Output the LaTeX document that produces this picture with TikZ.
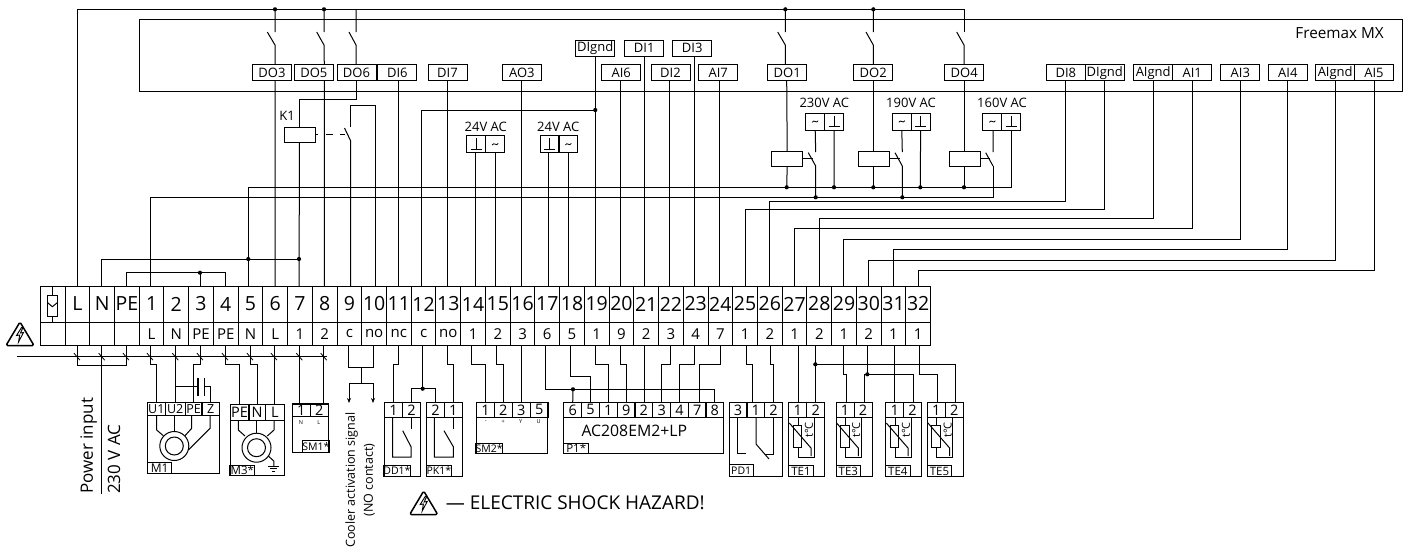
\documentclass[tikz,border=0pt]{standalone}
\usepackage{fontspec}
\setmainfont{Open Sans}
\usetikzlibrary{arrows.meta}
\newcommand{\bendwire}[3]{\draw[wire] (#1) -- (#1 |- 0,#2) -| (#3);}
\tikzset{
    wire/.style={line width=1pt},
    sigbox/.style={draw, line width=1pt, outer sep=0pt, inner sep=0pt, minimum width=39pt, minimum height=16pt, font=\fontsize{13}{15}\selectfont},
    supplybox/.style={draw, line width=1pt, outer sep=0pt, inner sep=0pt, minimum width=19pt, minimum height=17pt},
    relaybox/.style={draw, line width=1pt, outer sep=0pt, minimum width=31pt, minimum height=15pt},
    termcell/.style={draw, line width=1pt, outer sep=0pt, inner sep=0pt, minimum width=24.73pt, minimum height=36pt, font=\fontsize{19.5}{22}\selectfont},
    pincell/.style={draw, line width=1pt, outer sep=0pt, inner sep=0pt, minimum width=24.73pt, minimum height=23.7pt, font=\fontsize{15}{17}\selectfont},
    devpin/.style={draw, line width=1pt, outer sep=0pt, inner sep=0pt, minimum width=#1, minimum height=14.3pt, font=\fontsize{14.5}{16}\selectfont},
    devbody/.style={draw, line width=1pt, outer sep=0pt, inner sep=0pt},
    devtag/.style={draw, line width=1pt, outer sep=0pt, inner sep=0pt, minimum width=#1, minimum height=10.7pt, font=\fontsize{10.5}{12}\selectfont},
    tinylabel/.style={inner sep=0pt, font=\fontsize{5.5}{6}\selectfont},
    plainlabel/.style={inner sep=0pt, font=\fontsize{13}{16}\selectfont},
    junction/.style={circle, fill=black, inner sep=0pt, minimum size=4.2pt},
    hazard/.pic={
        \draw[line width=1.5pt, rounded corners=1.5pt, line join=round] (0,-12) -- (14,11.5) -- (-14,11.5) -- cycle;
        \draw[line width=0.9pt, line join=miter] (1.5,-6.5) -- (-3.5,1.5) -- (-0.3,1) -- (-1.5,8) -- (3.5,-1.5) -- (0.5,-1) -- (3,-6.5) -- cycle;
    },
    earthmark/.pic={
        \draw[line width=0.9pt] (0,-6) -- (0,5) (-5.5,5) -- (5.5,5);
    },
    acmark/.pic={
        \draw[line width=0.8pt] (-3,0.8) .. controls (-1.2,-2.8) and (1.2,2.8) .. (3,-0.8);
    },
    tempsensor/.pic={
        \draw[wire] (4.5,8) rectangle (13,30);
        \draw[wire] (9.3,0) -- (9.3,8) (9.3,30) -- (9.3,40) -- (25.6,40) -- (25.6,0);
        \draw[wire] (0.6,6) -- (22.3,31) -- (22.3,39);
        \node[rotate=90, inner sep=0pt, font=\fontsize{11}{12}\selectfont] (t) at (20.3,13) {t°C};
    }
}

\begin{document}
\begin{tikzpicture}[x=1pt, y=-1pt]
    \useasboundingbox (0,0) rectangle (1408,550);

    % Controller housing
    \node[draw, line width=1pt, outer sep=0pt, minimum width=1262.5pt, minimum height=72pt] (freemax) at (770.75,55) {};
    \node[anchor=east, inner sep=0pt, font=\fontsize{15.3}{17}\selectfont] (freemaxname) at (1384,33) {Freemax MX};

    % Controller outputs and inputs
    \node[sigbox] (DO3) at (272,72.7) {DO3};
    \node[sigbox] (DO5) at (313.8,72.7) {DO5};
    \node[sigbox] (DO6) at (356.5,72.7) {DO6};
    \node[sigbox] (DI6) at (397.3,72.7) {DI6};
    \node[sigbox] (DI7) at (447.5,72.7) {DI7};
    \node[sigbox] (AO3) at (521.8,72.7) {AO3};
    \node[sigbox] (DIgndA) at (595.2,48.3) {DIgnd};
    \node[sigbox] (AI6) at (621.2,72.7) {AI6};
    \node[sigbox] (DI1) at (644.2,48.3) {DI1};
    \node[sigbox] (DI2) at (670.5,72.7) {DI2};
    \node[sigbox] (DI3) at (692.2,48.3) {DI3};
    \node[sigbox] (AI7) at (718.2,72.7) {AI7};
    \node[sigbox] (DO1) at (787.2,72.7) {DO1};
    \node[sigbox] (DO2) at (873.2,72.7) {DO2};
    \node[sigbox] (DO4) at (964.2,72.7) {DO4};
    \node[sigbox] (DI8) at (1065.8,72.7) {DI8};
    \node[sigbox] (DIgndB) at (1104.8,72.7) {DIgnd};
    \node[sigbox] (AIgndA) at (1153.2,72.7) {AIgnd};
    \node[sigbox] (AI1) at (1192.2,72.7) {AI1};
    \node[sigbox] (AI3) at (1240.3,72.7) {AI3};
    \node[sigbox] (AI4) at (1287.8,72.7) {AI4};
    \node[sigbox] (AIgndB) at (1335.2,72.7) {AIgnd};
    \node[sigbox] (AI5) at (1374,72.7) {AI5};

    % Terminal strip
    \foreach \n/\toplab/\botlab [count=\c] in {S//, L/L/, N/N/, PE/PE/, 1/1/L, 2/2/N, 3/3/PE, 4/4/PE, 5/5/N, 6/6/L, 7/7/1, 8/8/2, 9/9/c, 10/10/no, 11/11/nc, 12/12/c, 13/13/no, 14/14/1, 15/15/2, 16/16/3, 17/17/6, 18/18/5, 19/19/1, 20/20/9, 21/21/2, 22/22/3, 23/23/4, 24/24/7, 25/25/1, 26/26/2, 27/27/1, 28/28/2, 29/29/1, 30/30/2, 31/31/1, 32/32/1} {
        \node[termcell] (term\n) at ({40.3+(\c-0.5)*24.73},304) {\toplab};
        \node[pincell] (pin\n) at ({40.3+(\c-0.5)*24.73},333.85) {\botlab};
    }

    % Wire ends on the strip
    \foreach \n/\x in {L/77, N/101.7, PE/126.3, 1/150.7, 3/200, 4/225, 5/248.3, 6/275, 7/299, 8/324.3, 9/350.7, 10/375, 11/398.3, 12/421.7, 13/447.7, 14/475, 15/495.7, 16/521.7, 17/548.3, 18/568.7, 19/595.3, 20/620, 21/644.7, 22/669.7, 23/694.3, 24/719, 25/745.7, 26/769.3, 27/794.3, 28/819, 29/843.7, 30/868.7, 31/893.3, 32/918.3}
        \coordinate (up\n) at (\x,286);
    \foreach \n/\x in {L/77, N/101.7, PE/126, 1/150, 2/175.3, 3/200, 4/225, 5/250, 6/274, 7/299.3, 8/323.7, 9/348.7, 10/373.7, 11/398.3, 12/422.7, 13/447.7, 14/471.7, 15/496, 16/521, 17/545.7, 18/570.3, 19/595, 20/620.3, 21/644, 22/670.3, 23/694.3, 24/720.3, 25/746.7, 26/770, 27/798, 28/815.3, 29/843.7, 30/867.3, 31/894.3, 32/919.7}
        \coordinate (dn\n) at (\x,345.7);

    % Fuse symbol
    \draw[wire] (47.7,295) rectangle (57.3,316);
    \draw[wire] (52.3,286) -- (52.3,295) (52.3,316) -- (52.3,322);
    \draw[wire] (47.7,302.7) -- (52.3,306.7) -- (57.3,302.7);

    % Phase line round the housing and top switches
    \coordinate (topend) at (964,32);
    \draw[wire] (upL) |- (topend |- 0,9.3) -- (topend);
    \draw[wire] (275,9.3) -- (275,32) (267.3,32) -- (275,45) -- (up6 |- DO3.north) (up6 |- DO3.south) -- (up6);
    \draw[wire] (324,9.3) -- (324,32) (316.7,32) -- (324,45) -- (up8 |- DO5.north) (up8 |- DO5.south) -- (up8);
    \draw[wire] (356,9.3) -- (356,32) (349,32) -- (356,45) -- (356,64.7);
    \draw[wire] (785.3,9.3) -- (785.3,32) (777.7,32) -- (785.3,45) -- (785.3,64.7);
    \draw[wire] (873.3,9.3) -- (873.3,32) (866,32) -- (873.3,45) -- (873.3,64.7);
    \draw[wire] (956.7,32) -- (964,45) -- (964,64.7);

    % K1
    \node[relaybox, minimum width=31pt] (K1) at (299.5,134.5) {};
    \node[plainlabel] (K1name) at (287,115.5) {K1};
    \draw[wire] (356,80.7) -- (356,99) -| (K1.north);
    \draw[wire] (K1.south) -- (up7);
    \draw[wire, dash pattern=on 3pt off 7.5pt on 7pt off 7pt on 5pt off 9pt] (K1.east) -- (344.5,134.5);
    \draw[wire] (up10) |- (350.7,105) -- (350.7,127);
    \draw[wire] (344.5,128) -- (350.7,141) -- (up9);

    % Straight signal wires
    \draw[wire] (DI6.south -| up11) -- (up11);
    \draw[wire] (DI7.south -| up13) -- (up13);
    \draw[wire] (AO3.south -| up16) -- (up16);
    \draw[wire] (DIgndA.south -| up19) -- (up19);
    \draw[wire] (AI6.south -| up20) -- (up20);
    \draw[wire] (DI1.south -| up21) -- (up21);
    \draw[wire] (DI2.south -| up22) -- (up22);
    \draw[wire] (DI3.south -| up23) -- (up23);
    \draw[wire] (AI7.south -| up24) -- (up24);
    \draw[wire] (up12) |- (595.3,110);

    % 24V AC supplies
    \node[plainlabel] (acLa) at (485.7,126.7) {24V AC};
    \node[supplybox] (gndA) at (476.2,144.2) {};
    \node[supplybox] (hotA) at (495.2,144.2) {};
    \pic at (gndA) {earthmark};
    \pic at (hotA) {acmark};
    \draw[wire] (gndA.south -| up14) -- (up14);
    \draw[wire] (hotA.south -| up15) -- (up15);
    \node[plainlabel] (acLb) at (558.3,126.7) {24V AC};
    \node[supplybox] (gndB) at (549.5,144.2) {};
    \node[supplybox] (hotB) at (568.3,144.2) {};
    \pic at (gndB) {earthmark};
    \pic at (hotB) {acmark};
    \draw[wire] (gndB.south -| up17) -- (up17);
    \draw[wire] (hotB.south -| up18) -- (up18);

    % Return buses
    \draw[wire] (up5) |- (1011.3,187.3) -- (1011.3,130);
    \draw[wire] (up1) |- (993,197.3) -- (993,166);
    \draw[wire] (upN) |- (up7 |- 0,259);

    % Speed relay 230V
    \node[plainlabel] (acHa) at (824.3,103) {230V AC};
    \node[supplybox] (hotC) at (815.2,121.5) {};
    \node[supplybox] (gndC) at (834.2,121.5) {};
    \pic at (hotC) {acmark};
    \pic at (gndC) {earthmark};
    \node[relaybox] (RL1) at (787.2,158.8) {};
    \draw[wire] (786.7,80.7) -- (RL1.north);
    \draw[wire] (RL1.south) -- (786.7,187.3);
    \draw[wire] (RL1.east) -- (813,158.8);
    \draw[wire] (hotC.south) -- (815.7,152) (808.3,152.7) -- (815.7,166) -- (815.7,197.3);
    \draw[wire] (gndC.south) -- (834,187.3);

    % Speed relay 190V
    \node[plainlabel] (acHb) at (911,103) {190V AC};
    \node[supplybox] (hotD) at (901.8,121.5) {};
    \node[supplybox] (gndD) at (920.6,121.5) {};
    \pic at (hotD) {acmark};
    \pic at (gndD) {earthmark};
    \node[relaybox] (RL2) at (874,158.8) {};
    \draw[wire] (873.3,80.7) -- (873.3,151.3);
    \draw[wire] (873.3,166.3) -- (873.3,187.3);
    \draw[wire] (RL2.east) -- (899.5,158.8);
    \draw[wire] (hotD.south) -- (902.3,152) (895,152.7) -- (902.3,166) -- (902.3,197.3);
    \draw[wire] (gndD.south) -- (920.3,187.3);

    % Speed relay 160V
    \node[plainlabel] (acHc) at (1002,103) {160V AC};
    \node[supplybox] (hotE) at (992.4,121.5) {};
    \node[supplybox] (gndE) at (1011.2,121.5) {};
    \pic at (hotE) {acmark};
    \pic at (gndE) {earthmark};
    \node[relaybox] (RL3) at (964.5,158.8) {};
    \draw[wire] (964,80.7) -- (964,151.3);
    \draw[wire] (964,166.3) -- (964,187.3);
    \draw[wire] (RL3.east) -- (990,158.8);
    \draw[wire] (hotE.south -| 993,0) -- (993,152) (985.7,152.7) -- (993,166);

    % Sensor returns to the right hand inputs
    \bendwire{up26}{201.7}{DI8.south}
    \bendwire{up25}{209.7}{DIgndB.south}
    \bendwire{up28}{218.3}{AIgndA.south}
    \bendwire{up27}{228.7}{AI1.south}
    \bendwire{up29}{239}{AI3.south}
    \bendwire{up31}{249.7}{AI4.south}
    \bendwire{up30}{260.3}{AIgndB.south}
    \bendwire{up32}{270.7}{AI5.south}

    % PE link
    \draw[wire] (upPE) |- (225,272.7) -- (up4);
    \draw[wire] (200,272.7) -- (up3);

    % Junctions
    \node[junction] (j1) at (275,9.3) {};
    \node[junction] (j2) at (324,9.3) {};
    \node[junction] (j3) at (785.3,9.3) {};
    \node[junction] (j4) at (873.3,9.3) {};
    \node[junction] (j5) at (595.3,110) {};
    \node[junction] (j6) at (786.7,187.3) {};
    \node[junction] (j7) at (834,187.3) {};
    \node[junction] (j8) at (873.3,187.3) {};
    \node[junction] (j9) at (920.3,187.3) {};
    \node[junction] (j10) at (964,187.3) {};
    \node[junction] (j11) at (815.7,197.3) {};
    \node[junction] (j12) at (902.3,197.3) {};
    \node[junction] (j13) at (248.3,259) {};
    \node[junction] (j14) at (299,259) {};
    \node[junction] (j15) at (200,272.7) {};
    \node[junction] (j16) at (422.7,388.7) {};
    \node[junction] (j17) at (573,389.3) {};
    \node[junction] (j18) at (815.3,364.3) {};
    \node[junction] (j19) at (867.3,374.3) {};

    % Hazard marks
    \pic at (20,334) {hazard};
    \pic at (423.7,503) {hazard};
    \node[anchor=west, inner sep=0pt, font=\fontsize{19}{21}\selectfont] (shocktext) at (445.7,503) {— ELECTRIC SHOCK HAZARD!};

    % Shared line under the strip
    \coordinate (buswest) at (16.7,356.7);
    \coordinate (buseast) at (327,356.7);
    \draw[wire] (buswest) -- (buseast);
    \foreach \x in {77,101.7,126,150,175.3,200,225,250,274,299.3,323.7}
        \draw[line width=0.8pt] (\x-3,353.2) -- (\x+3,360.2);

    % Power input
    \draw[wire] (dnL) |- (dnPE |- 0,365) -- (dnPE);
    \draw[wire] (dnN) -- (101.7,494);
    \node[rotate=90, anchor=west, inner sep=0pt, font=\fontsize{17}{21}\selectfont] (powerin) at (88.7,494) {Power input};
    \node[rotate=90, anchor=west, inner sep=0pt, font=\fontsize{17}{21}\selectfont] (powerv) at (114,494) {230 V AC};

    % M1
    \node[devbody, minimum width=72.4pt, minimum height=71pt] (M1) at (183.5,438.2) {};
    \node[devpin=18pt, minimum height=13pt, font=\fontsize{12.5}{14}\selectfont] (M1u1) at (156.3,409.2) {U1};
    \node[devpin=19.7pt, minimum height=13pt, font=\fontsize{12.5}{14}\selectfont] (M1u2) at (175.2,409.2) {U2};
    \node[devpin=17pt, minimum height=13pt, font=\fontsize{12.5}{14}\selectfont] (M1pe) at (193.5,409.2) {PE};
    \node[devpin=17.7pt, minimum height=13pt, font=\fontsize{12.5}{14}\selectfont] (M1z) at (210.8,409.2) {Z};
    \node[devtag=24.7pt, font=\fontsize{12}{13}\selectfont] (M1tag) at (159.6,468.3) {M1};
    \bendwire{dn1}{364.7}{M1u1.north}
    \draw[wire] (dn2) -- (dn2 |- M1u2.north);
    \bendwire{dn3}{364.7}{M1pe.north}
    \coordinate (capin) at (175.3,386.7);
    \draw[wire] (capin) -- (197,386.7);
    \draw[line width=1.8pt] (198,378) -- (198,396) (204.5,378) -- (204.5,396);
    \draw[wire] (204.5,386.7) -| (M1z.north);
    \draw[wire] (156.7,415.7) -- (156.7,430) -- (163.3,435.7);
    \draw[wire] (174.3,415.7) -- (174.3,431.7);
    \draw[wire] (191.7,415.7) -- (191.7,428.3) -- (185,435.7);
    \draw[wire] (210,415.7) -- (210,428.3) -- (188.3,450);
    \draw[wire] (174.3,446) circle[radius=14.5pt] (174.3,446) circle[radius=9pt];

    % M3
    \node[devbody, minimum width=54.3pt, minimum height=71.3pt] (M3) at (257.2,440.3) {};
    \node[devpin=19pt, minimum height=15.3pt] (M3pe) at (239.5,412.35) {PE};
    \node[devpin=16.3pt, minimum height=15.3pt] (M3n) at (257.1,412.35) {N};
    \node[devpin=19pt, minimum height=15.3pt] (M3l) at (274.8,412.35) {L};
    \node[devtag=24.7pt, font=\fontsize{11.5}{13}\selectfont] (M3tag) at (242.3,470.6) {M3*};
    \bendwire{dn4}{364.7}{M3pe.north}
    \bendwire{dn5}{364.7}{M3n.north}
    \draw[wire] (dn6) -- (dn6 |- M3l.north);
    \draw[wire] (238.3,420) -- (238.3,430) -- (245,436);
    \draw[wire] (256.7,420) -- (256.7,433.3);
    \draw[wire] (274,420) -- (274,430) -- (267.3,436);
    \draw[wire] (256.5,447.7) circle[radius=14.5pt] (256.5,447.7) circle[radius=9pt];
    \draw[wire] (268.3,456) -- (273.8,461) -- (273.8,466);
    \draw[line width=0.9pt] (268.3,466) -- (279.3,466) (270.3,468.5) -- (277.3,468.5) (272.3,471) -- (275.3,471);

    % SM1
    \node[devbody, minimum width=36pt, minimum height=48.7pt] (SM1) at (310.3,428.3) {};
    \node[devpin=18pt, minimum height=12.7pt] (SM1a) at (301.3,410.35) {1};
    \node[devpin=18pt, minimum height=12.7pt] (SM1b) at (319.3,410.35) {2};
    \node[tinylabel] (SM1n) at (301,423) {N};
    \node[tinylabel] (SM1l) at (318.7,423) {L};
    \node[devtag=24.6pt, minimum height=12pt] (SM1tag) at (316,446.7) {SM1*};
    \draw[wire] (dn7) -- (dn7 |- SM1a.north);
    \draw[wire] (dn8) -- (dn8 |- SM1b.north);

    % Cooler signal
    \coordinate (coolerfork) at (361,367.3);
    \coordinate (coolerA) at (349,403);
    \coordinate (coolerB) at (373,403);
    \draw[wire] (dn9) |- (dn10 |- coolerfork) -- (dn10);
    \draw[wire, -{Stealth[length=5pt,width=4pt]}] (coolerfork) -- (361,383) -| (coolerA);
    \draw[wire, -{Stealth[length=5pt,width=4pt]}] (361,383) -| (coolerB);
    \node[rotate=90, inner sep=0pt, font=\fontsize{12.5}{15}\selectfont] (coolertext) at (351.7,480) {Cooler activation signal};
    \node[rotate=90, inner sep=0pt, font=\fontsize{12.5}{15}\selectfont] (coolernote) at (369.3,480) {(NO contact)};

    % DD1
    \node[devbody, minimum width=36pt, minimum height=73.6pt] (DD1) at (402.7,439.5) {};
    \node[devpin=17.6pt] (DD1a) at (393.5,409.85) {1};
    \node[devpin=18.4pt] (DD1b) at (411.5,409.85) {2};
    \node[devtag=24.3pt] (DD1tag) at (396.9,471) {DD1*};
    \bendwire{dn11}{364.3}{DD1a.north}
    \draw[wire] (dn12) -- (422.7,388.7);
    \draw[wire] (DD1b.north) |- (422.7,388.7);
    \draw[wire] (392.7,417) -- (392.7,457) -- (411,457) -- (411,446.7) -- (402.7,430.7);
    \draw[wire] (411,417) -- (411,429.3);

    % PK1
    \node[devbody, minimum width=35.6pt, minimum height=73.6pt] (PK1) at (444.5,439.5) {};
    \node[devpin=17.6pt] (PK1b) at (435.5,409.85) {2};
    \node[devpin=18pt] (PK1a) at (453.3,409.85) {1};
    \node[devtag=24.3pt] (PK1tag) at (438.9,471) {PK1*};
    \draw[wire] (PK1b.north) |- (422.7,388.7);
    \bendwire{dn13}{364.3}{PK1a.north}
    \draw[wire] (434.3,417) -- (434.3,457) -- (453.3,457) -- (453.3,446.7) -- (444,430.7);
    \draw[wire] (453.3,417) -- (453.3,429.3);

    % SM2
    \node[devbody, minimum width=71.3pt, minimum height=51pt] (SM2) at (512.3,428.2) {};
    \node[devpin=17.6pt] (SM2a) at (485.5,409.85) {1};
    \node[devpin=18pt] (SM2b) at (503.3,409.85) {2};
    \node[devpin=18pt] (SM2c) at (521.3,409.85) {3};
    \node[devpin=17.7pt] (SM2d) at (539.2,409.85) {5};
    \node[tinylabel] (SM2m) at (485.7,421.7) {-};
    \node[tinylabel] (SM2p) at (503.3,421.7) {+};
    \node[tinylabel] (SM2y) at (520.7,421.7) {Y};
    \node[tinylabel] (SM2u) at (538.7,421.7) {U};
    \node[devtag=25pt, minimum height=10.4pt] (SM2tag) at (489.2,448.5) {SM2*};
    \bendwire{dn14}{364.3}{SM2a.north}
    \bendwire{dn15}{364.3}{SM2b.north}
    \draw[wire] (dn16) -- (dn16 |- SM2c.north);

    % P1
    \node[devbody, minimum width=160pt, minimum height=51pt] (P1) at (643.7,428.2) {};
    \node[devpin=18pt] (P1f) at (572.7,409.85) {6};
    \node[devpin=17.6pt] (P1e) at (590.5,409.85) {5};
    \node[devpin=18pt] (P1a) at (608.3,409.85) {1};
    \node[devpin=17.7pt] (P1i) at (626.2,409.85) {9};
    \node[devpin=17.7pt] (P1b) at (643.8,409.85) {2};
    \node[devpin=18pt] (P1c) at (661.7,409.85) {3};
    \node[devpin=17.6pt] (P1d) at (679.5,409.85) {4};
    \node[devpin=17.7pt] (P1g) at (697.2,409.85) {7};
    \node[devpin=17.7pt] (P1h) at (714.8,409.85) {8};
    \node[inner sep=0pt, font=\fontsize{15.8}{19}\selectfont] (P1name) at (634.3,430.7) {AC208EM2+LP};
    \node[devtag=25pt, minimum height=10.4pt, font=\fontsize{11.5}{12}\selectfont] (P1tag) at (576.2,448.5) {P1*};
    \bendwire{dn17}{389.3}{P1h.north}
    \draw[wire] (573,389.3) -- (P1f.north);
    \bendwire{dn18}{376.3}{P1e.north}
    \bendwire{dn19}{364.3}{P1a.north}
    \bendwire{dn20}{364.3}{P1i.north}
    \draw[wire] (dn21) -- (dn21 |- P1b.north);
    \bendwire{dn22}{364.3}{P1c.north}
    \bendwire{dn23}{364.3}{P1d.north}
    \bendwire{dn24}{364.3}{[xshift=1.8pt]P1g.north}

    % PD1
    \node[devbody, minimum width=53.3pt, minimum height=73.6pt] (PD1) at (755.7,439.5) {};
    \node[devpin=18pt] (PD1c) at (738,409.85) {3};
    \node[devpin=17.7pt] (PD1a) at (755.8,409.85) {1};
    \node[devpin=17.6pt] (PD1b) at (773.5,409.85) {2};
    \node[devtag=24.3pt, minimum height=11.3pt] (PD1tag) at (741.2,470.6) {PD1};
    \bendwire{dn25}{364.3}{[xshift=-3.5pt]PD1a.north}
    \bendwire{dn26}{364.3}{PD1b.north}
    \draw[wire] (737,417) -- (737,453.3) -- (745.7,453.3);
    \draw[wire] (756,417) -- (756,444) -- (769,459);
    \draw[wire] (773.3,417) -- (773.3,454) -- (765,454);

    % Temperature sensors
    \node[devbody, minimum width=36pt, minimum height=73.6pt] (TE1) at (806.7,439.5) {};
    \node[devpin=18pt] (TE1a) at (797.7,409.85) {1};
    \node[devpin=18pt] (TE1b) at (815.7,409.85) {2};
    \node[devtag=24.5pt, font=\fontsize{11.5}{12}\selectfont] (TE1tag) at (801,471) {TE1};
    \pic (TE1sym) at (788.7,417) {tempsensor};
    \draw[wire] (dn27) -- (dn27 |- TE1a.north);
    \draw[wire] (dn28) -- (dn28 |- TE1b.north);

    \node[devbody, minimum width=36pt, minimum height=73.6pt] (TE3) at (854,439.5) {};
    \node[devpin=18pt] (TE3a) at (845,409.85) {1};
    \node[devpin=18pt] (TE3b) at (863,409.85) {2};
    \node[devtag=24.5pt, font=\fontsize{11.5}{12}\selectfont] (TE3tag) at (848.3,471) {TE3};
    \pic (TE3sym) at (836,417) {tempsensor};
    \bendwire{dn29}{374.3}{[xshift=1.3pt]TE3a.north}
    \draw[wire] (dn30) -- (867.3,374.3);
    \draw[wire] (864,402.7) |- (913,374.3) -- (913,402.7);

    \node[devbody, minimum width=35.6pt, minimum height=73.6pt] (TE4) at (903.5,439.5) {};
    \node[devpin=18pt] (TE4a) at (894.7,409.85) {1};
    \node[devpin=17.6pt] (TE4b) at (912.5,409.85) {2};
    \node[devtag=24.5pt, font=\fontsize{11.5}{12}\selectfont] (TE4tag) at (897.8,471) {TE4};
    \pic (TE4sym) at (885.7,417) {tempsensor};
    \draw[wire] (dn31) -- (dn31 |- TE4a.north);

    \node[devbody, minimum width=36pt, minimum height=73.6pt] (TE5) at (945.3,439.5) {};
    \node[devpin=18pt] (TE5a) at (936.3,409.85) {1};
    \node[devpin=18pt] (TE5b) at (954.3,409.85) {2};
    \node[devtag=24.5pt, font=\fontsize{11.5}{12}\selectfont] (TE5tag) at (939.5,471) {TE5};
    \pic (TE5sym) at (927.3,417) {tempsensor};
    \bendwire{dn32}{374.3}{[xshift=1pt]TE5a.north}
    \draw[wire] (815.3,364.3) -| (955.7,402.7);
\end{tikzpicture}
\end{document}
